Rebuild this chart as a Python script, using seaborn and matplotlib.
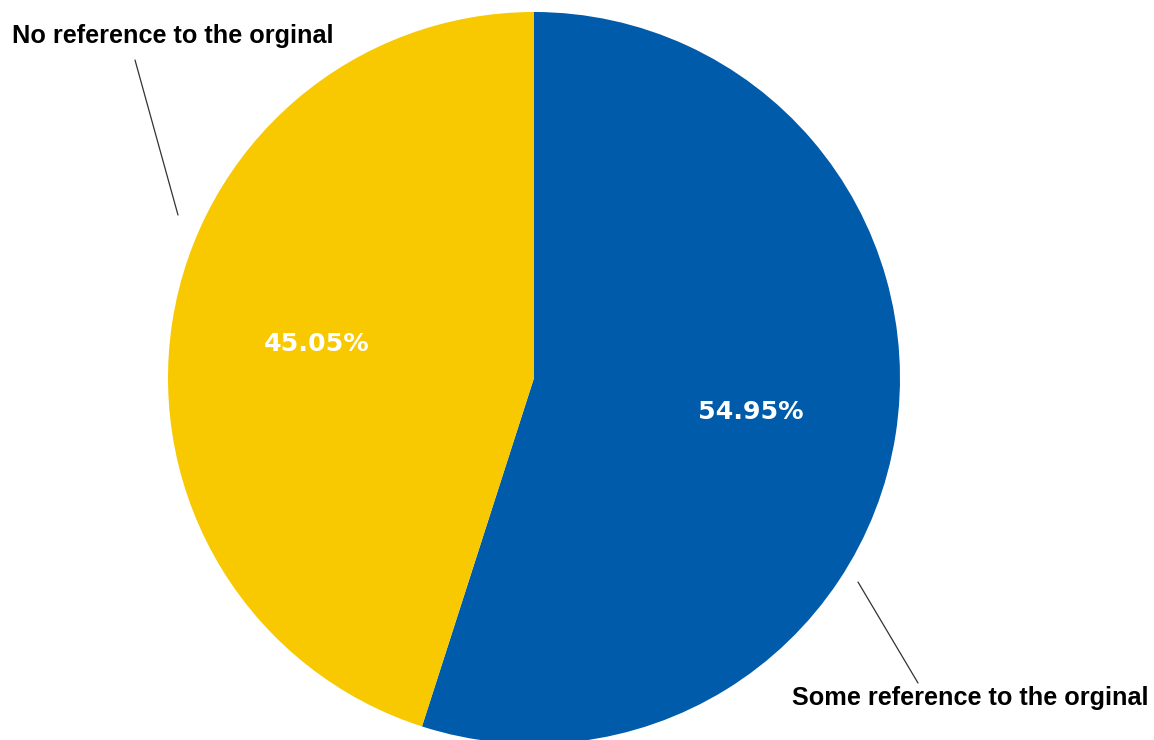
import matplotlib
matplotlib.use("Agg")
import matplotlib.pyplot as plt
import seaborn as sns

categories = ["Some reference to the orginal", "No reference to the orginal"]
values = [54.95, 45.05]
colors = ["#005BAA", "#F8C800"]

sns.set_style("white")
plt.rcParams['font.family'] = ['DejaVu Sans']

fig = plt.figure(figsize=(11.54, 7.40), dpi=100)
ax = fig.add_axes([0, 0, 1, 1])

wedges, texts, autotexts = ax.pie(
    values, colors=colors, startangle=90, counterclock=False,
    center=(534, 362), radius=366, autopct='%.2f%%', pctdistance=0.6,
    wedgeprops=dict(linewidth=0),
    textprops=dict(color='white', fontsize=18.2, fontweight='bold'),
)
ax.set_xlim(0, 1154)
ax.set_ylim(0, 740)
ax.set_aspect('equal')
ax.axis('off')

lab_font = dict(family='Liberation Sans', fontsize=18.2, fontweight='bold', color='black')
ax.text(12, 704, categories[1], ha='left', va='center', **lab_font)
ax.text(792, 42, categories[0], ha='left', va='center', **lab_font)
ax.plot([135, 178], [680, 525], color='#333333', lw=0.9)
ax.plot([858, 918], [158, 57], color='#333333', lw=0.9)

fig.savefig("out.png", dpi=100)
